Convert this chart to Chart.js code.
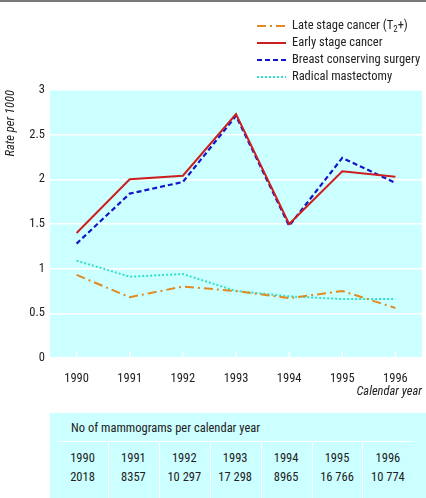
<!DOCTYPE html>
<html>
<head>
<meta charset="utf-8">
<script src="https://cdn.jsdelivr.net/npm/chart.js@4/dist/chart.umd.min.js"></script>
<style>
  html, body { margin: 0; padding: 0; background: #fff; }
  body { width: 426px; height: 498px; position: relative; overflow: hidden; font-family: "Roboto Condensed", "Liberation Sans", Arial, sans-serif; }
  #topline { position: absolute; left: 0; top: 0; width: 426px; height: 2px; background: #7a7a7a; }
  #wrap { position: absolute; left: 0; top: 0; width: 426px; height: 403px; }
  #tbl { position: absolute; left: 50px; top: 413px; width: 376px; height: 85px; background: #ccffff; color: #222; font-size: 12.5px; }
  #tbl .hdr { position: absolute; left: 21px; top: 7px; line-height: 16px; }
  #tbl .sep { position: absolute; left: 7px; top: 28px; width: 356px; height: 1px; background: #fff; }
  #tbl .col { position: absolute; top: 29px; width: 51px; height: 56px; text-align: center; line-height: 19px; padding-top: 6px; box-sizing: border-box; }
  #tbl .vl { position: absolute; top: 29px; width: 1px; height: 56px; background: #fff; }
</style>
</head>
<body>
<div id="topline"></div>
<div id="wrap"><canvas id="c" width="426" height="403"></canvas></div>
<div id="tbl"><div class="hdr" id="hdr"></div><div class="sep"></div></div>
<script>
const years = ["1990", "1991", "1992", "1993", "1994", "1995", "1996"];
const lateStage = [0.93, 0.68, 0.80, 0.75, 0.67, 0.75, 0.56];
const earlyStage = [1.40, 2.00, 2.04, 2.73, 1.50, 2.09, 2.03];
const breastConserving = [1.28, 1.84, 1.97, 2.71, 1.48, 2.24, 1.96];
const radicalMastectomy = [1.09, 0.91, 0.94, 0.75, 0.69, 0.66, 0.66];
const mammograms = ["2018", "8357", "10 297", "17 298", "8965", "16 766", "10 774"];
const seriesLabels = ["Late stage cancer (T", "Early stage cancer", "Breast conserving surgery", "Radical mastectomy"];
const tableTitle = "No of mammograms per calendar year";

// table (HTML)
const tbl = document.getElementById('tbl');
document.getElementById('hdr').textContent = tableTitle;
years.forEach((y, i) => {
  const d = document.createElement('div');
  d.className = 'col';
  d.style.left = (7 + i * 50.9) + 'px';
  d.innerHTML = y + '<br>' + mammograms[i];
  tbl.appendChild(d);
  if (i > 0) {
    const v = document.createElement('div');
    v.className = 'vl';
    v.style.left = (7 + i * 50.9) + 'px';
    tbl.appendChild(v);
  }
});

const FONT = '"Roboto Condensed", "Liberation Sans", Arial, sans-serif';
const FS = 12.5;

const bgPlugin = {
  id: 'bg',
  beforeDraw(chart) {
    const {ctx, chartArea: a} = chart;
    ctx.save();
    ctx.fillStyle = '#ccffff';
    ctx.fillRect(a.left, a.top, a.right - a.left, a.bottom - a.top);
    ctx.restore();
  },
  afterDatasetsDraw(chart) {
    // inward white tick marks at the bottom of the plot
    const {ctx, chartArea: a} = chart;
    const xs = chart.scales.x;
    ctx.save();
    ctx.strokeStyle = '#ffffff';
    ctx.lineWidth = 1.5;
    for (let i = 0; i < years.length; i++) {
      const x = xs.getPixelForTick(i);
      ctx.beginPath();
      ctx.moveTo(x, a.bottom);
      ctx.lineTo(x, a.bottom - 6);
      ctx.stroke();
    }
    ctx.restore();
  }
};

const legendPlugin = {
  id: 'customLegend',
  afterDraw(chart) {
    const {ctx} = chart;
    const ys = [26, 43, 60, 77];
    ctx.save();
    chart.data.datasets.forEach((ds, i) => {
      const y = ys[i];
      ctx.strokeStyle = ds.borderColor;
      ctx.lineWidth = ds.borderWidth;
      ctx.setLineDash(ds.borderDash || []);
      ctx.beginPath();
      ctx.moveTo(257, y);
      ctx.lineTo(286, y);
      ctx.stroke();
      ctx.setLineDash([]);
      ctx.fillStyle = '#222';
      ctx.font = FS + 'px ' + FONT;
      ctx.textBaseline = 'middle';
      ctx.textAlign = 'left';
      let x = 292;
      ctx.fillText(ds.label, x, y);
      if (i === 0) {
        x += ctx.measureText(ds.label).width;
        ctx.font = '9px ' + FONT;
        ctx.fillText('2', x, y + 4);
        x += ctx.measureText('2').width;
        ctx.font = FS + 'px ' + FONT;
        ctx.fillText('+)', x, y);
      }
    });
    ctx.restore();
  }
};

new Chart(document.getElementById('c'), {
  type: 'line',
  data: {
    labels: years,
    datasets: [
      { label: seriesLabels[0], data: lateStage, borderColor: '#e08a22', borderWidth: 2, borderDash: [9, 4, 2, 4], pointRadius: 0, tension: 0, fill: false },
      { label: seriesLabels[1], data: earlyStage, borderColor: '#cc1f1f', borderWidth: 2, pointRadius: 0, tension: 0, fill: false },
      { label: seriesLabels[2], data: breastConserving, borderColor: '#1414c8', borderWidth: 2.2, borderDash: [5, 3], pointRadius: 0, tension: 0, fill: false },
      { label: seriesLabels[3], data: radicalMastectomy, borderColor: '#2fe0c8', borderWidth: 2, borderDash: [2, 2], pointRadius: 0, tension: 0, fill: false }
    ]
  },
  options: {
    responsive: false,
    animation: false,
    layout: { padding: { top: 90, right: 4, left: 0, bottom: 0 } },
    plugins: { legend: { display: false }, tooltip: { enabled: false } },
    scales: {
      x: {
        offset: true,
        grid: { display: false },
        border: { display: false },
        ticks: { color: '#222', font: { family: FONT, size: FS }, padding: 5, maxRotation: 0 },
        title: { display: true, text: 'Calendar year', align: 'end', color: '#222', font: { family: FONT, size: FS, style: 'italic' }, padding: { top: 4, bottom: 4 } },
        afterFit(s) { s.height = 45; }
      },
      y: {
        min: 0, max: 3,
        ticks: { stepSize: 0.5, color: '#222', font: { family: FONT, size: FS }, padding: 5, callback: (v) => String(v) },
        grid: { color: '#ffffff', lineWidth: 1.5, drawTicks: false },
        border: { display: false },
        title: { display: true, text: 'Rate per 1000', align: 'end', color: '#222', font: { family: FONT, size: FS, style: 'italic' }, padding: { top: 3, bottom: 0 } },
        afterFit(s) { s.width = 50; }
      }
    }
  },
  plugins: [bgPlugin, legendPlugin]
});
</script>
</body>
</html>
